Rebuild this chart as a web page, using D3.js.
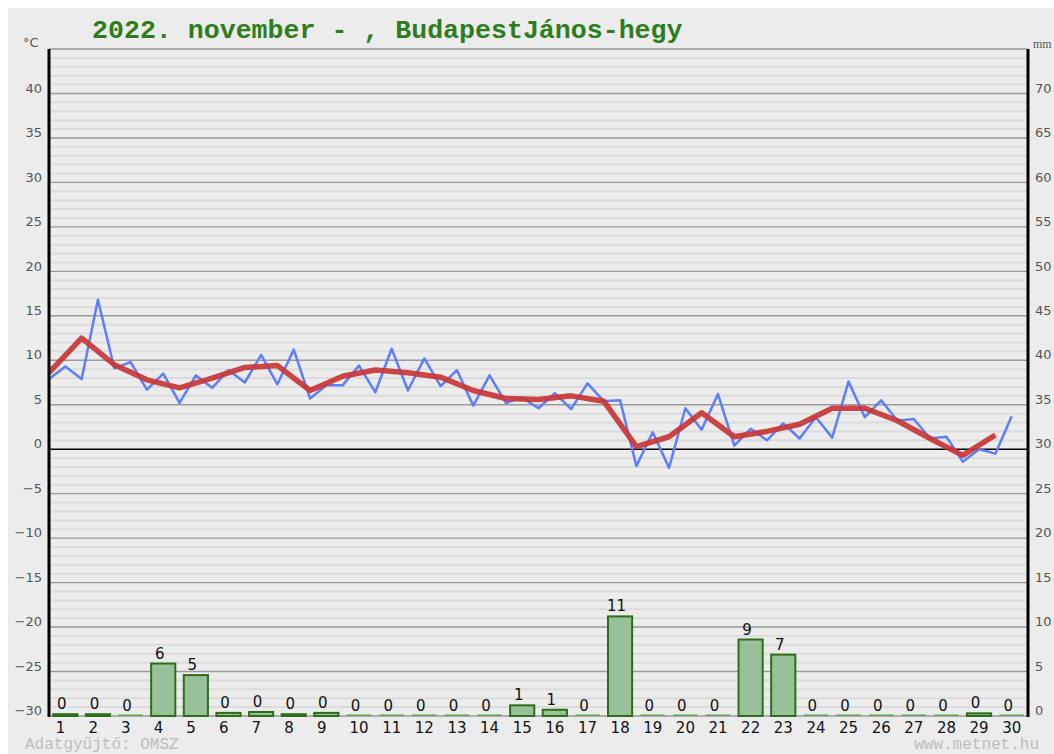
<!DOCTYPE html>
<html>
<head>
<meta charset="utf-8">
<script src="https://cdn.jsdelivr.net/npm/d3@7"></script>
<style>
    body { margin: 0; background: #ffffff; }
    .label { font-family: "DejaVu Sans", Verdana, sans-serif; }
</style>
</head>
<body>
<div class="weather-chart"></div>
<script>
const days = [1, 2, 3, 4, 5, 6, 7, 8, 9, 10, 11, 12, 13, 14, 15, 16, 17, 18, 19, 20, 21, 22, 23, 24, 25, 26, 27, 28, 29, 30];

// two readings a day (°C)
const temp_half_daily = [
    7.9, 9.3, 7.9, 16.8, 9.1, 9.8, 6.7, 8.5, 5.2, 8.3,
    6.9, 8.9, 7.5, 10.6, 7.3, 11.2, 5.7, 7.2, 7.2, 9.4,
    6.4, 11.3, 6.6, 10.2, 7.1, 8.9, 4.9, 8.3, 5.2, 5.8,
    4.6, 6.3, 4.5, 7.4, 5.4, 5.5, -1.9, 1.9, -2.1, 4.6,
    2.2, 6.2, 0.4, 2.3, 1.0, 2.9, 1.2, 3.6, 1.3, 7.6,
    3.6, 5.5, 3.2, 3.4, 1.2, 1.4, -1.4, 0.0, -0.5, 3.7
];

// daily mean (°C)
const temp_daily_avg = [
    8.6, 12.5, 9.5, 7.8, 6.9, 8.0, 9.2, 9.4, 6.6, 8.2,
    8.9, 8.6, 8.1, 6.6, 5.7, 5.6, 6.0, 5.4, 0.3, 1.4,
    4.1, 1.4, 2.0, 2.8, 4.6, 4.6, 3.2, 1.2, -0.7, 1.6
];

// daily precipitation (mm)
const precip_mm = [
    0.2, 0.2, 0, 5.9, 4.6, 0.35, 0.45, 0.2, 0.35, 0,
    0, 0, 0, 0, 1.2, 0.7, 0, 11.2, 0, 0,
    0, 8.6, 6.9, 0, 0, 0, 0, 0, 0.3, 0
];

const temp_ticks = [-30, -25, -20, -15, -10, -5, 0, 5, 10, 15, 20, 25, 30, 35, 40];
const precip_ticks = [0, 5, 10, 15, 20, 25, 30, 35, 40, 45, 50, 55, 60, 65, 70];

function draw_chart(){
    const width = 1054;
    const height = 754;
    const left = 49;
    const right = 1028;
    const top = 49;
    const bottom = 716;

    const svg = d3.select('.weather-chart')
        .append('svg')
        .attr('width', width)
        .attr('height', height)
        .style('display', 'block');

    svg.append('rect')
        .attr('x', 8)
        .attr('y', 8)
        .attr('width', width - 8)
        .attr('height', height - 8)
        .attr('fill', '#ececec');

    const x = d3.scaleBand()
        .domain(days)
        .range([left, right])
        .paddingInner(0.26)
        .paddingOuter(0.13);

    const x_time = d3.scaleLinear().domain([0, 30]).range([left, right]);
    const y_temp = d3.scaleLinear().domain([-30, 45]).range([bottom, top]);
    const y_rain = d3.scaleLinear().domain([0, 75]).range([bottom, top]);

    // minor grid, every degree
    const minor = d3.range(-29, 45).filter(v => v % 5 != 0);
    svg.selectAll('.minor')
        .data(minor)
        .enter()
        .append('line')
        .attr('x1', left)
        .attr('x2', right)
        .attr('y1', d => y_temp(d))
        .attr('y2', d => y_temp(d))
        .attr('stroke', '#dcdcdc')
        .attr('stroke-width', 2);

    svg.selectAll('.major')
        .data(temp_ticks.concat([45]))
        .enter()
        .append('line')
        .attr('x1', left)
        .attr('x2', right)
        .attr('y1', d => y_temp(d))
        .attr('y2', d => y_temp(d))
        .attr('stroke', d => d == 0 ? '#000000' : '#9a9a9a')
        .attr('stroke-width', d => d == 0 ? 1.6 : 1.4);

    // precipitation bars
    const bars = days.map((d, i) => ({day: d, mm: precip_mm[i]}));
    svg.selectAll('.bar')
        .data(bars)
        .enter()
        .append('rect')
        .attr('class', 'bar')
        .attr('x', d => x(d.day))
        .attr('width', x.bandwidth())
        .attr('y', d => d.mm > 0 ? y_rain(d.mm) : bottom - 1.5)
        .attr('height', d => d.mm > 0 ? bottom - y_rain(d.mm) : 1.5)
        .attr('fill', d => d.mm > 0 ? '#99c199' : '#5f9f4f')
        .attr('stroke', d => d.mm > 0 ? '#2d6e1a' : 'none')
        .attr('stroke-width', 2);

    svg.selectAll('.bar-label')
        .data(bars)
        .enter()
        .append('text')
        .attr('class', 'label')
        .attr('text-anchor', 'middle')
        .attr('x', d => x(d.day) + x.bandwidth() / 2 - 3.5)
        .attr('y', d => y_rain(d.mm) - 5)
        .attr('font-size', '15px')
        .attr('fill', '#111')
        .text(d => Math.round(d.mm));

    // temperature lines
    const half_line = d3.line()
        .x((d, i) => x_time(i / 2))
        .y(d => y_temp(d));

    svg.append('path')
        .datum(temp_half_daily)
        .attr('d', half_line)
        .attr('fill', 'none')
        .attr('stroke', '#5c7eff')
        .attr('stroke-width', 2.5)
        .attr('stroke-linejoin', 'round');

    const avg_line = d3.line()
        .x((d, i) => x_time(i))
        .y(d => y_temp(d));

    svg.append('path')
        .datum(temp_daily_avg)
        .attr('d', avg_line)
        .attr('fill', 'none')
        .attr('stroke', '#c93636')
        .attr('stroke-opacity', 0.92)
        .attr('stroke-width', 5.5)
        .attr('stroke-linejoin', 'round');

    // axis lines
    svg.append('line')
        .attr('x1', left).attr('x2', left)
        .attr('y1', top).attr('y2', bottom + 1)
        .attr('stroke', '#000').attr('stroke-width', 3);
    svg.append('line')
        .attr('x1', right).attr('x2', right)
        .attr('y1', top).attr('y2', bottom + 1)
        .attr('stroke', '#000').attr('stroke-width', 3);

    const left_axis = svg.append('g')
        .attr('transform', 'translate(' + left + ',0)')
        .call(d3.axisLeft(y_temp).tickValues(temp_ticks).tickSize(0).tickPadding(7));
    const right_axis = svg.append('g')
        .attr('transform', 'translate(' + right + ',0)')
        .call(d3.axisRight(y_rain).tickValues(precip_ticks).tickSize(0).tickPadding(7));
    const bottom_axis = svg.append('g')
        .attr('transform', 'translate(0,' + bottom + ')')
        .call(d3.axisBottom(x).tickSize(0).tickPadding(6));

    [left_axis, right_axis, bottom_axis].forEach(g => {
        g.select('.domain').remove();
        g.selectAll('text')
            .attr('class', 'label')
            .style('font-family', '"DejaVu Sans", Verdana, sans-serif');
    });
    left_axis.selectAll('text').attr('font-size', '13px').attr('fill', '#555').attr('dy', '-0.1em');
    right_axis.selectAll('text').attr('font-size', '13px').attr('fill', '#555').attr('dy', '-0.1em');
    bottom_axis.selectAll('text')
        .attr('font-size', '15px')
        .attr('fill', '#111')
        .attr('text-anchor', 'start')
        .attr('x', -9.5);

    svg.append('text')
        .attr('class', 'label')
        .attr('x', 23)
        .attr('y', 47)
        .attr('font-size', '13px')
        .attr('fill', '#555')
        .text('°C');

    svg.append('text')
        .attr('x', 1033)
        .attr('y', 48)
        .attr('font-family', '"Liberation Serif", serif')
        .attr('font-size', '12px')
        .attr('fill', '#555')
        .text('mm');

    svg.append('text')
        .attr('x', 92)
        .attr('y', 38)
        .attr('font-family', '"Liberation Mono", "Courier New", monospace')
        .attr('font-weight', 'bold')
        .attr('font-size', '26.6px')
        .attr('fill', '#2e7d1c')
        .text('2022. november - , BudapestJános-hegy');

    svg.append('text')
        .attr('x', 25)
        .attr('y', 749)
        .attr('font-family', '"Liberation Mono", "Courier New", monospace')
        .attr('font-size', '16px')
        .attr('fill', '#bdbdbd')
        .text('Adatgyűjtő: OMSZ');

    svg.append('text')
        .attr('x', 1039)
        .attr('y', 749)
        .attr('text-anchor', 'end')
        .attr('font-family', '"Liberation Mono", "Courier New", monospace')
        .attr('font-size', '16px')
        .attr('fill', '#bdbdbd')
        .text('www.metnet.hu');
}

draw_chart();
</script>
</body>
</html>
